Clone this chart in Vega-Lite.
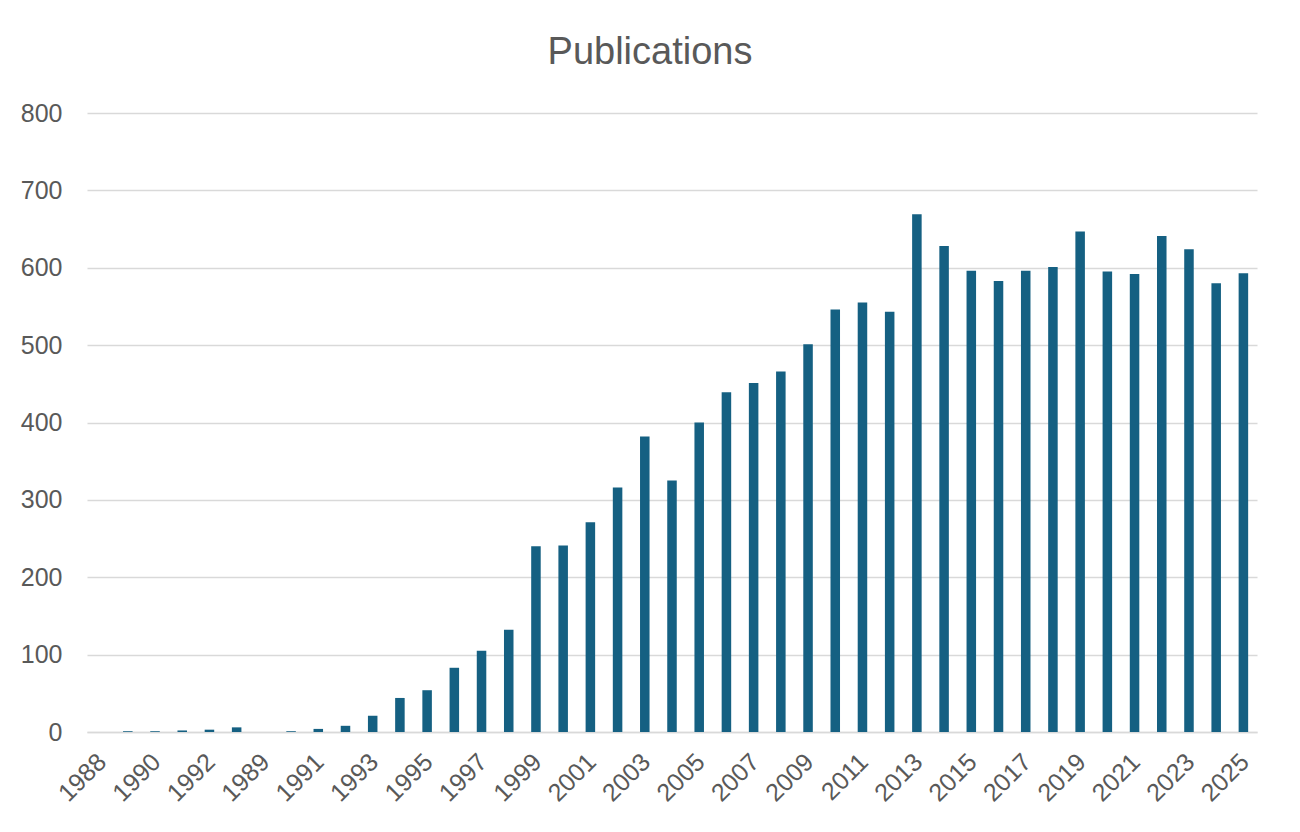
{
  "$schema": "https://vega.github.io/schema/vega-lite/v6.json",
  "autosize": "none",
  "width": 1170,
  "height": 619,
  "padding": {"left": 87, "top": 113, "right": 43, "bottom": 100},
  "background": "white",
  "title": {
    "text": "Publications",
    "font": "Liberation Sans",
    "fontSize": 38,
    "fontWeight": "normal",
    "color": "#595959",
    "anchor": "middle",
    "frame": "group",
    "baseline": "alphabetic",
    "dx": -22,
    "offset": -1
  },
  "data": {
    "values": [
      {"key": "1988", "year": "1988", "count": 0},
      {"key": "1989", "year": "1989", "count": 1},
      {"key": "1990", "year": "1990", "count": 1},
      {"key": "1991", "year": "1991", "count": 2},
      {"key": "1992", "year": "1992", "count": 3},
      {"key": "1988b", "year": "1988", "count": 6},
      {"key": "1989b", "year": "1989", "count": 0},
      {"key": "1990b", "year": "1990", "count": 1},
      {"key": "1991b", "year": "1991", "count": 4},
      {"key": "1992b", "year": "1992", "count": 8},
      {"key": "1993", "year": "1993", "count": 21},
      {"key": "1994", "year": "1994", "count": 44},
      {"key": "1995", "year": "1995", "count": 54},
      {"key": "1996", "year": "1996", "count": 83},
      {"key": "1997", "year": "1997", "count": 105},
      {"key": "1998", "year": "1998", "count": 132},
      {"key": "1999", "year": "1999", "count": 240},
      {"key": "2000", "year": "2000", "count": 241},
      {"key": "2001", "year": "2001", "count": 271},
      {"key": "2002", "year": "2002", "count": 316},
      {"key": "2003", "year": "2003", "count": 382},
      {"key": "2004", "year": "2004", "count": 325},
      {"key": "2005", "year": "2005", "count": 400},
      {"key": "2006", "year": "2006", "count": 439},
      {"key": "2007", "year": "2007", "count": 451},
      {"key": "2008", "year": "2008", "count": 466},
      {"key": "2009", "year": "2009", "count": 501},
      {"key": "2010", "year": "2010", "count": 546},
      {"key": "2011", "year": "2011", "count": 555},
      {"key": "2012", "year": "2012", "count": 543},
      {"key": "2013", "year": "2013", "count": 669},
      {"key": "2014", "year": "2014", "count": 628},
      {"key": "2015", "year": "2015", "count": 596},
      {"key": "2016", "year": "2016", "count": 583},
      {"key": "2017", "year": "2017", "count": 596},
      {"key": "2018", "year": "2018", "count": 601},
      {"key": "2019", "year": "2019", "count": 647},
      {"key": "2020", "year": "2020", "count": 595},
      {"key": "2021", "year": "2021", "count": 592},
      {"key": "2022", "year": "2022", "count": 641},
      {"key": "2023", "year": "2023", "count": 624},
      {"key": "2024", "year": "2024", "count": 580},
      {"key": "2025", "year": "2025", "count": 593}
    ]
  },
  "mark": {"type": "bar", "color": "#156082"},
  "encoding": {
    "x": {
      "field": "key",
      "type": "nominal",
      "sort": null,
      "scale": {"paddingInner": 0.65, "paddingOuter": 0.325},
      "title": null,
      "axis": {
        "values": ["1988", "1990", "1992", "1989b", "1991b", "1993", "1995", "1997", "1999", "2001", "2003", "2005", "2007", "2009", "2011", "2013", "2015", "2017", "2019", "2021", "2023", "2025"],
        "labelExpr": "slice(datum.value, 0, 4)",
        "labelAngle": -45,
        "labelOverlap": false,
        "labelPadding": 17,
        "labelOffset": -7,
        "ticks": false,
        "tickSize": 0,
        "domainColor": "#d9d9d9",
        "domainWidth": 1.5,
        "grid": false
      }
    },
    "y": {
      "field": "count",
      "type": "quantitative",
      "scale": {"domain": [0, 800], "nice": false},
      "title": null,
      "axis": {
        "values": [0, 100, 200, 300, 400, 500, 600, 700, 800],
        "ticks": false,
        "tickSize": 0,
        "labelPadding": 25,
        "domain": false,
        "grid": true,
        "gridColor": "#d9d9d9",
        "gridWidth": 1.5
      }
    }
  },
  "config": {
    "view": {"stroke": null},
    "axis": {
      "labelFont": "Liberation Sans",
      "labelFontSize": 25,
      "labelColor": "#595959"
    }
  }
}
